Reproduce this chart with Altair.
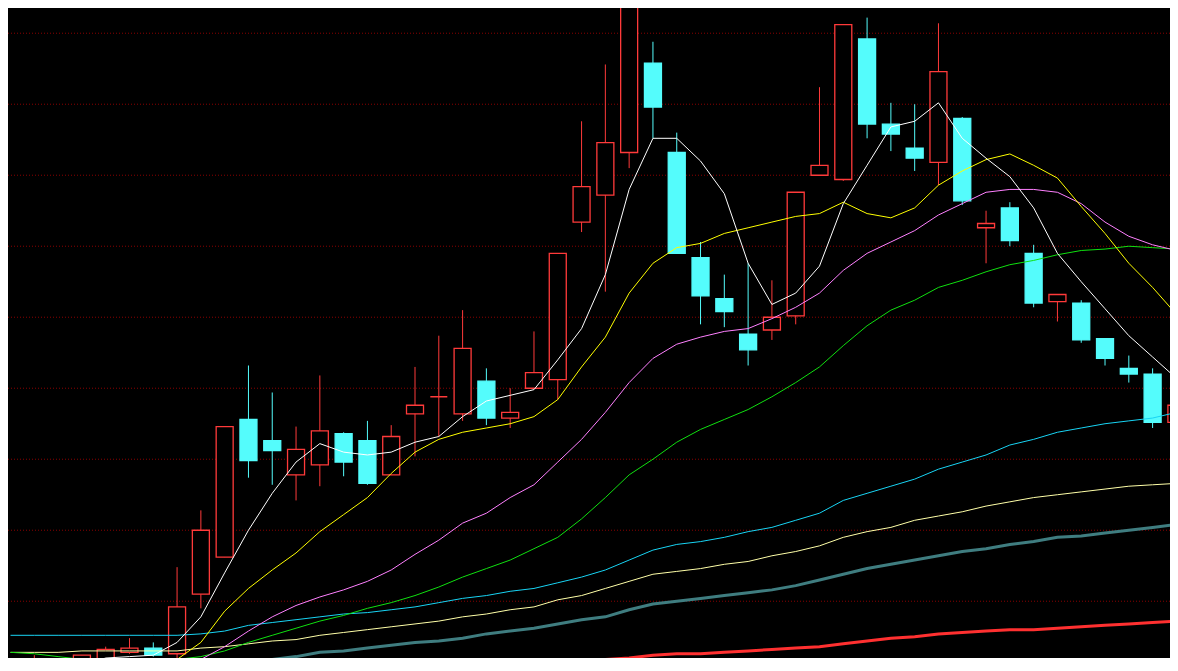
import altair as alt
import pandas as pd

# ---- candle data ----
opens  = [8.50, 8.56, 8.50, 8.54, 8.59, 8.64, 8.67, 8.63, 9.05, 9.31,
          10.28, 10.13, 9.89, 9.96, 10.18, 10.13, 9.89, 10.32, 10.44, 10.32,
          10.55, 10.29, 10.50, 10.56, 11.67, 11.86, 12.16, 12.79, 12.16, 11.42,
          11.13, 10.88, 10.91, 11.01, 12.00, 11.97, 12.96, 12.36, 12.19, 12.09,
          12.40, 11.63, 11.77, 11.45, 11.11, 11.10, 10.85, 10.64, 10.60, 10.26]
highs  = [8.54, 8.62, 8.55, 8.62, 8.68, 8.74, 8.71, 9.24, 9.64, 10.23,
          10.66, 10.47, 10.23, 10.59, 10.19, 10.27, 10.24, 10.65, 10.87, 11.05,
          10.64, 10.50, 10.90, 11.45, 12.38, 12.78, 13.21, 12.94, 12.30, 11.53,
          11.30, 11.38, 11.26, 11.88, 12.62, 13.06, 13.11, 12.51, 12.50, 13.07,
          12.41, 11.75, 11.81, 11.51, 11.16, 11.12, 10.85, 10.73, 10.64, 10.40]
lows   = [8.48, 8.55, 8.50, 8.535, 8.58, 8.63, 8.61, 8.59, 8.95, 9.31,
          9.87, 9.82, 9.71, 9.81, 9.88, 9.82, 9.89, 10.02, 10.16, 10.27,
          10.24, 10.22, 10.50, 10.42, 11.60, 11.18, 12.05, 12.26, 11.45, 10.95,
          10.93, 10.66, 10.84, 10.95, 12.00, 11.96, 12.26, 12.17, 12.03, 11.93,
          11.79, 11.38, 11.50, 11.07, 10.97, 10.82, 10.66, 10.54, 10.22, 10.25]
closes = [8.52, 8.59, 8.54, 8.62, 8.66, 8.67, 8.62, 8.96, 9.50, 10.23,
          9.99, 10.06, 10.07, 10.20, 9.98, 9.83, 10.16, 10.38, 10.44, 10.78,
          10.29, 10.33, 10.61, 11.45, 11.92, 12.23, 13.20, 12.48, 11.45, 11.15,
          11.04, 10.77, 11.00, 11.88, 12.07, 13.06, 12.36, 12.29, 12.12, 12.73,
          11.82, 11.66, 11.54, 11.10, 11.16, 10.84, 10.71, 10.60, 10.26, 10.38]

# ---- moving averages ----
ma5   = [8.47, 8.49, 8.51, 8.55, 8.60, 8.61, 8.62, 8.71, 8.89, 9.20,
         9.50, 9.76, 9.98, 10.11, 10.05, 10.03, 10.05, 10.12, 10.16, 10.30,
         10.41, 10.45, 10.49, 10.70, 10.92, 11.30, 11.90, 12.26, 12.26, 12.10,
         11.87, 11.38, 11.09, 11.17, 11.36, 11.80, 12.07, 12.34, 12.38, 12.51,
         12.26, 12.12, 11.99, 11.77, 11.45, 11.25, 11.06, 10.87, 10.72, 10.57]
ma10  = [8.38, 8.41, 8.45, 8.47, 8.50, 8.51, 8.54, 8.59, 8.71, 8.93,
         9.09, 9.22, 9.34, 9.49, 9.61, 9.73, 9.90, 10.05, 10.14, 10.19,
         10.22, 10.25, 10.30, 10.42, 10.65, 10.86, 11.17, 11.38, 11.49, 11.52,
         11.59, 11.63, 11.67, 11.71, 11.73, 11.81, 11.73, 11.70, 11.77, 11.93,
         12.03, 12.11, 12.15, 12.07, 11.98, 11.78, 11.59, 11.38, 11.21, 11.02]
ma20  = [8.53, 8.53, 8.53, 8.53, 8.53, 8.53, 8.53, 8.55, 8.59, 8.68,
         8.79, 8.89, 8.97, 9.03, 9.08, 9.14, 9.22, 9.33, 9.43, 9.55,
         9.62, 9.73, 9.82, 9.98, 10.14, 10.33, 10.54, 10.71, 10.81, 10.86,
         10.90, 10.92, 10.99, 11.07, 11.17, 11.33, 11.45, 11.53, 11.61, 11.72,
         11.80, 11.88, 11.90, 11.90, 11.88, 11.80, 11.67, 11.57, 11.51, 11.47]
ma30  = [8.64, 8.63, 8.61, 8.59, 8.59, 8.58, 8.58, 8.59, 8.61, 8.65,
         8.71, 8.76, 8.81, 8.86, 8.90, 8.95, 8.99, 9.04, 9.10, 9.17,
         9.23, 9.29, 9.37, 9.45, 9.58, 9.73, 9.89, 10.00, 10.12, 10.21,
         10.28, 10.35, 10.44, 10.54, 10.65, 10.80, 10.94, 11.05, 11.12, 11.21,
         11.26, 11.32, 11.37, 11.40, 11.44, 11.47, 11.48, 11.50, 11.49, 11.48]
ma60  = [8.76, 8.76, 8.76, 8.76, 8.76, 8.76, 8.76, 8.76, 8.77, 8.79,
         8.83, 8.85, 8.87, 8.89, 8.91, 8.92, 8.94, 8.96, 8.99, 9.02,
         9.04, 9.07, 9.09, 9.13, 9.17, 9.22, 9.29, 9.36, 9.40, 9.42,
         9.45, 9.49, 9.52, 9.57, 9.62, 9.71, 9.76, 9.81, 9.86, 9.93,
         9.98, 10.03, 10.10, 10.14, 10.19, 10.22, 10.25, 10.27, 10.29, 10.33]
ma120 = [8.64, 8.64, 8.64, 8.65, 8.65, 8.65, 8.65, 8.65, 8.67, 8.68,
         8.70, 8.72, 8.73, 8.76, 8.78, 8.80, 8.82, 8.84, 8.86, 8.89,
         8.91, 8.94, 8.96, 9.01, 9.04, 9.09, 9.14, 9.19, 9.21, 9.23,
         9.26, 9.28, 9.32, 9.35, 9.39, 9.45, 9.49, 9.52, 9.57, 9.60,
         9.63, 9.67, 9.70, 9.73, 9.75, 9.77, 9.79, 9.81, 9.82, 9.83]
ma250 = [8.47, 8.48, 8.49, 8.50, 8.50, 8.51, 8.52, 8.53, 8.54, 8.56,
         8.57, 8.59, 8.61, 8.64, 8.65, 8.67, 8.69, 8.71, 8.72, 8.74,
         8.77, 8.79, 8.81, 8.84, 8.87, 8.89, 8.94, 8.98, 9.00, 9.02,
         9.04, 9.06, 9.08, 9.11, 9.15, 9.19, 9.23, 9.26, 9.29, 9.32,
         9.35, 9.37, 9.40, 9.42, 9.45, 9.46, 9.48, 9.50, 9.52, 9.54]
ma_red = [None] * 15 + [
         8.50, 8.51, 8.51, 8.52, 8.53,
         8.54, 8.54, 8.55, 8.57, 8.57, 8.59, 8.60, 8.62, 8.63, 8.63,
         8.64, 8.65, 8.66, 8.67, 8.68, 8.70, 8.72, 8.74, 8.75, 8.77,
         8.78, 8.79, 8.80, 8.80, 8.81, 8.82, 8.83, 8.84, 8.85, 8.86]

grid_levels = [13.0, 12.5, 12.0, 11.5, 11.0, 10.5, 10.0, 9.5, 9.0]

RED = "#ff3a3a"
CYAN = "#54fcfc"

xs = alt.Scale(domain=[0.1042, 48.5208], nice=False, zero=False)
ys = alt.Scale(domain=[8.6002, 13.1777], nice=False, zero=False)

idx = list(range(len(opens)))
candles = pd.DataFrame({
    "idx": idx, "open": opens, "high": highs, "low": lows, "close": closes,
})
candles["dir"] = ["up" if c >= o else "down" for o, c in zip(opens, closes)]

X = alt.X("idx:Q", scale=xs, axis=None)

grid = alt.Chart(pd.DataFrame({"level": grid_levels})).mark_rule(
    color="#8a0000", strokeWidth=1, strokeDash=[1, 2], clip=True
).encode(y=alt.Y("level:Q", scale=ys, axis=None))

wicks = alt.Chart(candles).mark_rule(strokeWidth=1, clip=True).encode(
    x=X,
    y=alt.Y("low:Q", scale=ys, axis=None),
    y2="high:Q",
    color=alt.Color("dir:N", scale=alt.Scale(domain=["up", "down"], range=[RED, CYAN]), legend=None),
)

bodies = alt.Chart(candles).mark_bar(size=17, strokeWidth=1.3, clip=True).encode(
    x=X,
    y=alt.Y("open:Q", scale=ys, axis=None),
    y2="close:Q",
    fill=alt.Fill("dir:N", scale=alt.Scale(domain=["up", "down"], range=["#000000", CYAN]), legend=None),
    stroke=alt.Stroke("dir:N", scale=alt.Scale(domain=["up", "down"], range=[RED, CYAN]), legend=None),
)

series = [
    (ma250, "#3f7d80", 3),
    (ma_red, "#ff3030", 3),
    (ma120, "#ffffa8", 1),
    (ma60, "#18d4f4", 1),
    (ma30, "#10e010", 1),
    (ma20, "#ff80ff", 1),
    (ma10, "#ffff00", 1),
    (ma5, "#ffffff", 1),
]

line_layers = []
for vals, col, w in series:
    df = pd.DataFrame({"idx": idx, "v": vals}).dropna()
    line_layers.append(
        alt.Chart(df).mark_line(color=col, strokeWidth=w, clip=True).encode(
            x=X, y=alt.Y("v:Q", scale=ys, axis=None)
        )
    )

chart = alt.layer(grid, wicks, bodies, *line_layers).properties(
    width=1162, height=650, padding=0,
    autosize=alt.AutoSizeParams(type="none"),
    background="#000000",
).configure_view(stroke=None)

chart.save("out.html", embed_options={"renderer": "svg", "actions": False})
